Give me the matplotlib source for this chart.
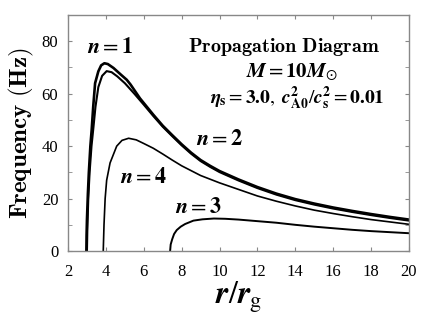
import matplotlib
matplotlib.use('Agg')
from matplotlib import pyplot as plt

# curves (r/r_g, frequency in Hz)
n1_r = [2.97, 2.98, 3.0, 3.05, 3.1, 3.18, 3.25, 3.33, 3.43, 3.6, 3.75, 3.92, 4.1, 4.4, 4.8, 5.1, 5.3, 5.8, 6.5, 7.0, 7.5, 8.0, 8.5, 9.0, 9.5, 10.0, 11.0, 12.0, 13.0, 14.0, 15.0, 16.0, 17.0, 18.0, 19.0, 20.0]
n1_f = [0, 6, 12, 22, 30, 40, 46.3, 55, 64, 68.5, 70.8, 71.6, 71.3, 69.8, 67.2, 65.3, 63.5, 58.2, 52, 47.8, 44.2, 40.7, 37.5, 34.7, 32.5, 30.5, 27.3, 24.4, 21.9, 19.8, 18.1, 16.6, 15.3, 14.1, 13.0, 12.0]

n2_r = [3.0, 3.02, 3.07, 3.14, 3.24, 3.34, 3.45, 3.6, 3.8, 4.04, 4.3, 4.6, 5.0, 5.5, 6.0, 6.5, 7.0, 7.5, 8.0, 8.5, 9.0, 9.5, 10.0, 11.0, 12.0, 13.0, 14.0, 15.0, 16.0, 17.0, 18.0, 19.0, 20.0]
n2_f = [0, 8, 20, 30, 40, 47, 55, 62.5, 66.8, 68.6, 68.2, 66.6, 64.0, 60.0, 55.8, 51.5, 47.4, 43.8, 40.3, 37.1, 34.3, 32.1, 30.1, 26.9, 24.0, 21.5, 19.4, 17.7, 16.2, 14.9, 13.7, 12.6, 11.6]

n4_r = [3.86, 3.9, 3.96, 4.04, 4.22, 4.57, 4.85, 5.2, 5.6, 6.0, 6.5, 7.0, 7.5, 8.0, 9.0, 10.0, 11.0, 12.0, 13.0, 14.0, 15.0, 16.0, 17.0, 18.0, 19.0, 20.0]
n4_f = [0, 10, 20, 27, 33.6, 40, 42.2, 43.0, 42.4, 41.0, 39.2, 37.0, 34.7, 32.5, 28.8, 26.0, 23.5, 21.0, 19.0, 17.2, 15.6, 14.3, 13.1, 12.0, 11.1, 10.2]

n3_r = [7.39, 7.42, 7.5, 7.6, 7.74, 7.95, 8.18, 8.62, 9.1, 9.7, 10.3, 11.0, 12.0, 13.0, 14.0, 15.0, 16.0, 17.0, 18.0, 19.0, 20.0]
n3_f = [0, 2.5, 4.5, 6.5, 8.0, 9.3, 10.3, 11.6, 12.1, 12.4, 12.3, 12.0, 11.4, 10.8, 10.0, 9.3, 8.7, 8.1, 7.6, 7.2, 6.8]

x_ticks = [2, 4, 6, 8, 10, 12, 14, 16, 18, 20]
y_ticks = [0, 20, 40, 60, 80]

plt.rcParams['mathtext.fontset'] = 'stix'
plt.rcParams['font.family'] = 'Liberation Serif'

fig = plt.figure(figsize=(4.36, 3.19), dpi=100)
ax = fig.add_axes([0.156, 0.213, 0.782, 0.740])

ax.plot(n1_r, n1_f, color='black', lw=1.9)
ax.plot(n2_r, n2_f, color='black', lw=1.5)
ax.plot(n4_r, n4_f, color='black', lw=1.2)
ax.plot(n3_r, n3_f, color='black', lw=1.4)

ax.set_xlim(2, 20)
ax.set_ylim(0, 90)
ax.set_xticks(x_ticks)
ax.set_yticks(y_ticks)
ax.set_yticks(range(10, 90, 20), minor=True)
ax.tick_params(direction='in', top=True, right=True, which='both', color='#888888', length=3, labelsize=12)
ax.tick_params(axis='x', pad=9)
ax.tick_params(axis='y', pad=7)
for s in ax.spines.values():
    s.set_color('#888888')
    s.set_linewidth(1.0)

ax.set_xlabel(r'$\boldsymbol{r}/\boldsymbol{r}_{\mathrm{g}}$', fontsize=23, labelpad=0)
ax.set_ylabel(r'$\mathbf{Frequency\ (Hz)}$', fontsize=18, math_fontfamily='cm', labelpad=4)

ax.text(4.2, 77.3, r'$\boldsymbol{n} = \mathbf{1}$', fontsize=16, ha='center', va='center')
ax.text(9.97, 42.5, r'$\boldsymbol{n} = \mathbf{2}$', fontsize=16, ha='center', va='center')
ax.text(6.0, 27.9, r'$\boldsymbol{n} = \mathbf{4}$', fontsize=16, ha='center', va='center')
ax.text(8.86, 16.5, r'$\boldsymbol{n} = \mathbf{3}$', fontsize=16, ha='center', va='center')

ax.text(13.4, 77.9, r'$\mathbf{Propagation\ Diagram}$', fontsize=14.5, math_fontfamily='cm', ha='center', va='center')
ax.text(13.8, 68.2, r'$\boldsymbol{M} = \mathbf{10}\boldsymbol{M}_{\odot}$', fontsize=15, ha='center', va='center')
ax.text(14.1, 58.4, r'$\boldsymbol{\eta}_{\mathbf{s}} = \mathbf{3.0},\ \boldsymbol{c}^{\mathbf{2}}_{\mathbf{A0}}/\boldsymbol{c}^{\mathbf{2}}_{\mathbf{s}} = \mathbf{0.01}$', fontsize=14, ha='center', va='center')

fig.savefig('out.png', dpi=100)
